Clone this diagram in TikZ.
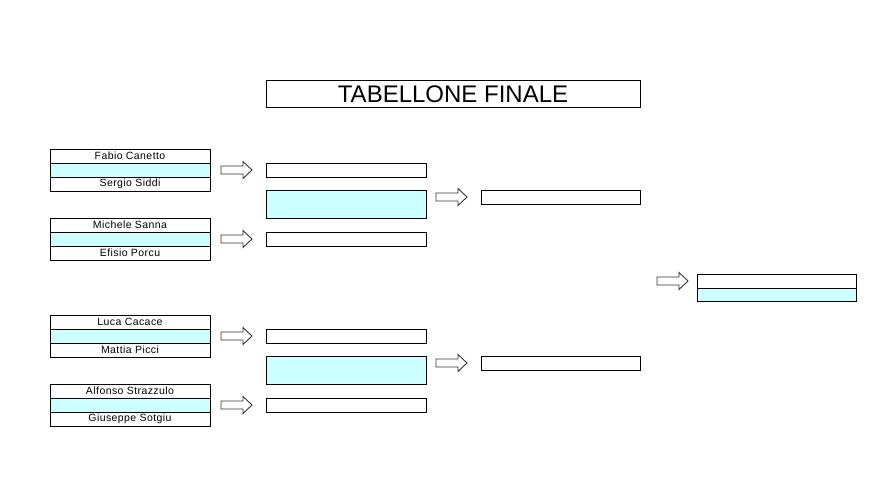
\documentclass[tikz,border=0pt]{standalone}
\usepackage{fontspec}
\setmainfont{Liberation Sans}
\newfontfamily\cellafont[LetterSpace=4]{Liberation Sans}
\definecolor{azzurro}{RGB}{204,255,255}
\tikzset{
    casella/.style={draw, line width=0.8pt},
    nome/.style={inner sep=0pt, font=\cellafont\fontsize{10.5}{12}\selectfont},
    pics/freccia/.style={code={
        \draw[line width=0.9pt, black!80, fill=white]
            (0,-4) -- (22,-4) -- (22,-8.5) -- (31,0) -- (22,8.5) -- (22,4) -- (0,4) -- cycle;
    }}
}
\begin{document}
\begin{tikzpicture}[x=1pt, y=-1pt]
            \useasboundingbox (0,0) rectangle (892,501);

            % titolo
            \draw[casella] (266,80) rectangle (640,107);
            \node[inner sep=0pt, font=\fontsize{24}{28}\selectfont] (titolo) at (453,94) {TABELLONE FINALE};

            % primo turno: coppie di giocatori
            \foreach \y/\a/\b/\n in {149/Fabio Canetto/Sergio Siddi/g1,
                                     218/Michele Sanna/Efisio Porcu/g2,
                                     315/Luca Cacace/Mattia Picci/g3,
                                     384/Alfonso Strazzulo/Giuseppe Sotgiu/g4} {
                \fill[azzurro] (50,\y+14) rectangle (210,\y+28);
                \draw[casella] (50,\y) rectangle (210,\y+42);
                \draw[casella] (50,\y+14) -- (210,\y+14);
                \draw[casella] (50,\y+28) -- (210,\y+28);
                \node[nome] (\n-a) at (130,\y+7) {\a};
                \node[nome] (\n-b) at (130,\y+35) {\b};
            }

            % frecce verso il secondo turno
            \foreach \y in {170,239,336,405} {
                \pic at (221,\y) {freccia};
            }

            % secondo turno
            \foreach \y in {163,232,329,398} {
                \draw[casella] (266,\y) rectangle (426,\y+14);
            }
            \fill[azzurro] (266,190) rectangle (426,218);
            \draw[casella] (266,190) rectangle (426,218);
            \fill[azzurro] (266,356) rectangle (426,384);
            \draw[casella] (266,356) rectangle (426,384);

            % frecce verso le semifinali
            \pic at (436,197) {freccia};
            \pic at (436,363) {freccia};

            % semifinali
            \draw[casella] (481,190) rectangle (640,204);
            \draw[casella] (481,356) rectangle (640,370);

            % freccia verso la finale
            \pic at (657,281) {freccia};

            % finale
            \fill[azzurro] (697,288) rectangle (856,301);
            \draw[casella] (697,274) rectangle (856,301);
            \draw[casella] (697,288) -- (856,288);

\end{tikzpicture}
\end{document}
